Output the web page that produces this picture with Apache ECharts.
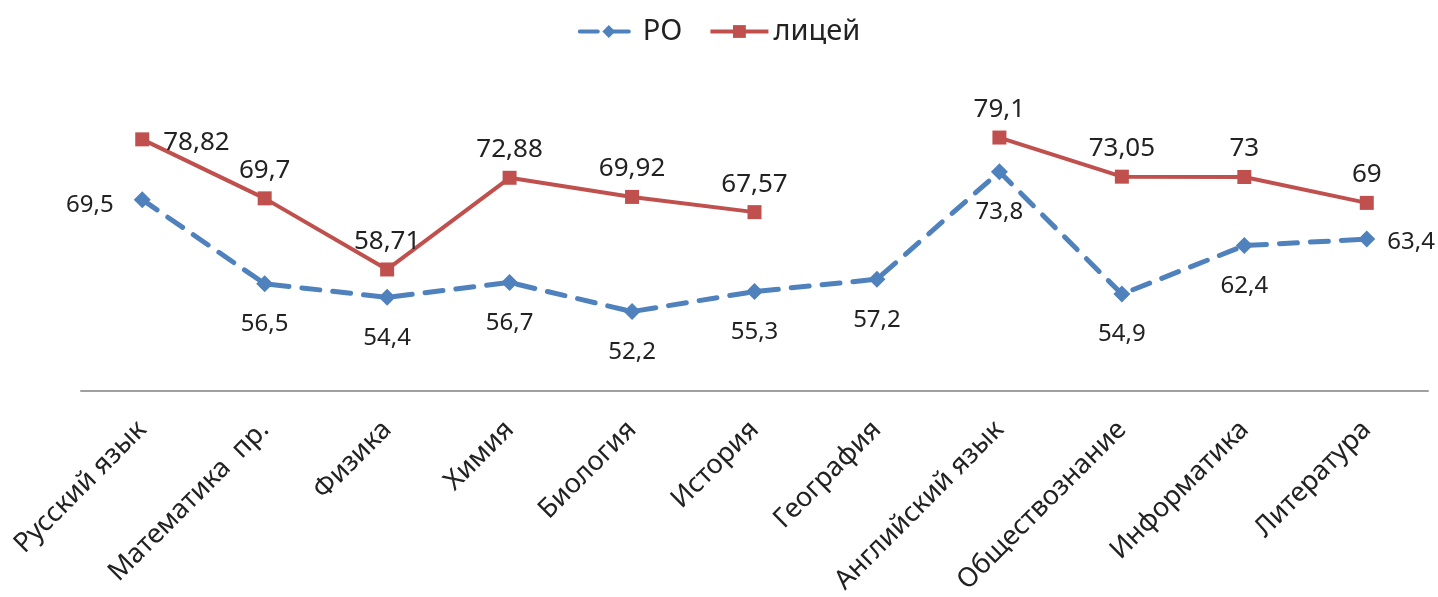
<!DOCTYPE html>
<html lang="ru">
<head>
    <meta charset="UTF-8">
    <title>РО и лицей</title>
    <script src="https://cdn.jsdelivr.net/npm/echarts@6/dist/echarts.min.js"></script>
    <style>
        html, body { margin: 0; padding: 0; background: #fff; }
        #chart { width: 1438px; height: 597px; }
    </style>
</head>
<body>
    <div id="chart"></div>
    <script>
        var subjects = ['Русский язык', 'Математика  пр.', 'Физика', 'Химия', 'Биология', 'История',
            'География', 'Английский язык', 'Обществознание', 'Информатика', 'Литература'];
        var roValues = [69.5, 56.5, 54.4, 56.7, 52.2, 55.3, 57.2, 73.8, 54.9, 62.4, 63.4];
        var liceyValues = [78.82, 69.7, 58.71, 72.88, 69.92, 67.57, null, 79.1, 73.05, 73, 69];

        var fontFamily = '"Noto Sans", "Open Sans", sans-serif';

        function fmt(p) {
            return String(p.value).replace('.', ',');
        }

        // first and last points carry their labels to the side
        var roData = roValues.map(function (v, i) {
            if (i === 0) return { value: v, label: { position: 'left', distance: 20, offset: [0, 6] } };
            if (i === roValues.length - 1) return { value: v, label: { position: 'right', distance: 12, offset: [0, 3] } };
            return v;
        });
        var liceyData = liceyValues.map(function (v, i) {
            if (i === 0) return { value: v, label: { position: 'right', distance: 14, offset: [0, 3] } };
            return v;
        });

        var chart = echarts.init(document.getElementById('chart'));

        chart.setOption({
            animation: false,
            legend: {
                top: 12,
                left: 'center',
                itemWidth: 58,
                itemHeight: 16,
                itemGap: 26,
                textStyle: { fontFamily: fontFamily, fontSize: 29, color: '#222' },
                data: [
                    { name: 'РО', lineStyle: { width: 4 } },
                    { name: 'лицей', lineStyle: { width: 4 } }
                ]
            },
            grid: { left: 81, right: 10, top: 67, bottom: 205 },
            xAxis: {
                type: 'category',
                data: subjects,
                boundaryGap: true,
                axisLine: { lineStyle: { color: '#a0a0a0', width: 2 } },
                axisTick: { show: false },
                axisLabel: {
                    rotate: 45,
                    margin: 35,
                    interval: 0,
                    fontFamily: fontFamily,
                    fontSize: 27,
                    color: '#222'
                }
            },
            yAxis: {
                type: 'value',
                min: 40,
                max: 90,
                show: false,
                splitLine: { show: false }
            },
            series: [
                {
                    name: 'РО',
                    type: 'line',
                    data: roData,
                    symbol: 'diamond',
                    symbolSize: 17,
                    itemStyle: { color: '#4f81bd' },
                    lineStyle: { color: '#4f81bd', width: 5, type: [18, 13], cap: 'round' },
                    label: {
                        show: true,
                        position: 'bottom',
                        distance: 20,
                        fontFamily: fontFamily,
                        fontSize: 24,
                        color: '#222',
                        formatter: fmt
                    }
                },
                {
                    name: 'лицей',
                    type: 'line',
                    data: liceyData,
                    connectNulls: false,
                    symbol: 'rect',
                    symbolSize: 14,
                    itemStyle: { color: '#c0504d' },
                    lineStyle: { color: '#c0504d', width: 4 },
                    label: {
                        show: true,
                        position: 'top',
                        distance: 8,
                        fontFamily: fontFamily,
                        fontSize: 26,
                        color: '#222',
                        formatter: fmt
                    }
                }
            ]
        });
    </script>
</body>
</html>
